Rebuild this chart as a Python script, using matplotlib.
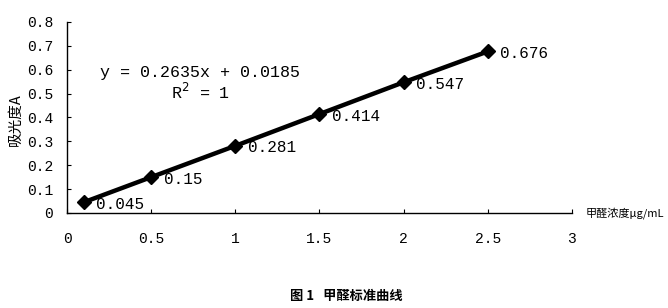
import matplotlib
matplotlib.use("Agg")
import matplotlib.pyplot as plt

conc = [0.1, 0.5, 1.0, 1.5, 2.0, 2.5]
absorb = [0.045, 0.15, 0.281, 0.414, 0.547, 0.676]
point_labels = ["0.045", "0.15", "0.281", "0.414", "0.547", "0.676"]
xticks = [0, 0.5, 1, 1.5, 2, 2.5, 3]
xticklabels = ["0", "0.5", "1", "1.5", "2", "2.5", "3"]
yticks = [0, 0.1, 0.2, 0.3, 0.4, 0.5, 0.6, 0.7, 0.8]
yticklabels = ["0", "0.1", "0.2", "0.3", "0.4", "0.5", "0.6", "0.7", "0.8"]

mono = ["Liberation Mono", "DejaVu Sans Mono"]
cjk = ["Noto Sans CJK SC", "DejaVu Sans"]

fig = plt.figure(figsize=(6.68, 3.08), dpi=100)
ax = fig.add_axes([0.1003, 0.3085, 0.7557, 0.6205])
ax.plot(conc, absorb, color="black", lw=3.2, marker="D", ms=7, mfc="black", mec="black")
for x, y, t in zip(conc, absorb, point_labels):
    ax.annotate(t, (x, y), xytext=(9, -1.5), textcoords="offset points",
                fontsize=11.5, family=mono, va="center", ha="left")

ax.set_xlim(0, 3)
ax.set_ylim(0, 0.8)
ax.set_xticks(xticks)
ax.set_xticklabels(xticklabels, family=mono, fontsize=10.5)
ax.set_yticks(yticks)
ax.set_yticklabels(yticklabels, family=mono, fontsize=10.5)
ax.tick_params(axis="x", direction="in", length=3, width=0.8, pad=14)
ax.tick_params(axis="y", direction="in", length=3, width=0.8, pad=10)
ax.spines["top"].set_visible(False)
ax.spines["right"].set_visible(False)
for s in ("left", "bottom"):
    ax.spines[s].set_linewidth(1.0)

ax.text(0.196, 0.59, "y = 0.2635x + 0.0185", family=mono, fontsize=12,
        ha="left", va="center")
ax.text(0.62, 0.507, "R$^2$ = 1", family=mono, fontsize=12, ha="left", va="center")

fig.text(0.023, 0.61, "吸光度A", rotation=90, family=cjk, fontsize=10.5,
         ha="center", va="center")
fig.text(0.876, 0.308, "甲醛浓度μg/mL", family=cjk, fontsize=8,
         ha="left", va="center")
fig.text(0.518, 0.04, "图 1   甲醛标准曲线", family=cjk, fontsize=9.5,
         fontweight="bold", ha="center", va="center")

fig.savefig("out.png", dpi=100)
